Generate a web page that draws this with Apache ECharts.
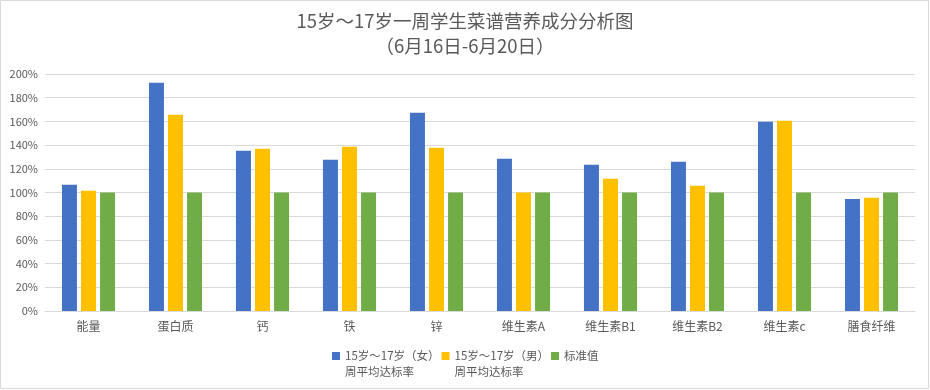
<!DOCTYPE html>
<html><head><meta charset="utf-8">
<script src="https://cdn.jsdelivr.net/npm/echarts@6/dist/echarts.min.js"></script>
<style>html,body{margin:0;padding:0;background:#fff}#c{width:930px;height:390px}</style>
</head><body><div id="c"></div>
<script>
const categories = ['能量','蛋白质','钙','铁','锌','维生素A','维生素B1','维生素B2','维生素c','膳食纤维'];
const seriesNames = ['15岁～17岁（女）\n周平均达标率','15岁～17岁（男）\n周平均达标率','标准值'];
const femaleRate = [106.5,192.7,135.2,127.6,167.3,128.5,123.4,125.9,159.7,94.6];
const maleRate = [101.4,165.6,136.9,138.6,137.7,100,111.5,105.6,160.6,95.5];
const standard = [100,100,100,100,100,100,100,100,100,100];
const yTicks = [0,20,40,60,80,100,120,140,160,180,200];
const colors = ['#4472C4','#FFC000','#70AD47'];
const font = '"Noto Sans CJK SC", "Microsoft YaHei", sans-serif';

const chart = echarts.init(document.getElementById('c'));
const mk = (name, data, i) => ({
  name, type: 'bar', data, barWidth: 15, barGap: '27%',
  itemStyle: {color: colors[i]}
});
chart.setOption({
  animation: false,
  textStyle: {fontFamily: font},
  title: {
    text: '15岁～17岁一周学生菜谱营养成分分析图\n（6月16日-6月20日）',
    left: 'center', top: 3,
    textStyle: {fontSize: 18.5, fontWeight: 'normal', color: '#595959', lineHeight: 25, fontFamily: font}
  },
  legend: {
    data: seriesNames, top: 327, left: 327,
    itemWidth: 8, itemHeight: 8, itemGap: 2, icon: 'rect',
    formatter: name => {
      const parts = name.split('\n');
      return ' \n' + parts[0] + '\n' + (parts[1] || ' ');
    },
    textStyle: {fontSize: 11.5, color: '#595959', lineHeight: 16, fontFamily: font}
  },
  grid: {left: 45, right: 15, top: 74, bottom: 79, containLabel: false},
  xAxis: {
    type: 'category', data: categories,
    axisLine: {lineStyle: {color: '#D9D9D9'}},
    axisTick: {show: false},
    axisLabel: {color: '#595959', fontSize: 12, margin: 9, fontFamily: font}
  },
  yAxis: {
    type: 'value', min: 0, max: 200, interval: 20,
    axisLine: {show: false}, axisTick: {show: false},
    axisLabel: {color: '#595959', fontSize: 11, formatter: v => v + '%', margin: 7, fontFamily: font},
    splitLine: {lineStyle: {color: '#D9D9D9'}}
  },
  series: [mk(seriesNames[0], femaleRate, 0), mk(seriesNames[1], maleRate, 1), mk(seriesNames[2], standard, 2)],
  graphic: [{type: 'rect', shape: {x: 0.5, y: 0.5, width: 928, height: 388}, style: {fill: 'none', stroke: '#D9D9D9', lineWidth: 1}, silent: true}]
});
</script></body></html>
